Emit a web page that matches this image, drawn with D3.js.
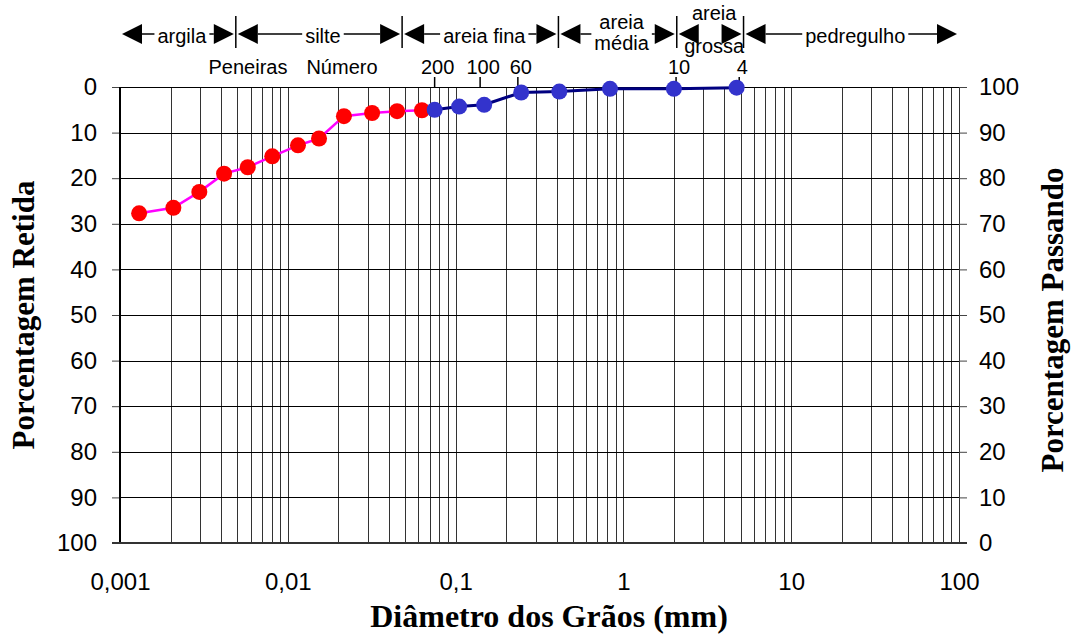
<!DOCTYPE html>
<html>
<head>
<meta charset="utf-8">
<title>Curva Granulométrica</title>
<script src="https://d3js.org/d3.v7.min.js"></script>
<style>
    body { margin: 0; background: #fff; }
    text { font-family: Arial, 'Liberation Sans', sans-serif; fill: #000; }
    .titulo { font-family: 'Times New Roman', 'Liberation Serif', serif; font-weight: bold; }
</style>
</head>
<body>
<svg id="chart" width="1072" height="636"></svg>
<script>
// sedimentacao (vermelho)
var diamSed = [0.0013, 0.00208, 0.00297, 0.00417, 0.00577, 0.00808, 0.0115, 0.01535, 0.0216, 0.0318, 0.0448, 0.063];
var retSed  = [27.7, 26.5, 23.0, 19.0, 17.6, 15.2, 12.8, 11.3, 6.4, 5.7, 5.3, 5.1];

// peneiramento (azul)
var diamPen = [0.075, 0.105, 0.148, 0.246, 0.415, 0.832, 2.0, 4.73];
var retPen  = [5.0, 4.3, 3.9, 1.2, 1.0, 0.4, 0.4, 0.15];

// peneiras no topo
var peneiras     = ["200", "100", "60", "10", "4"];
var diamPeneiras = [0.075, 0.14, 0.235, 2.06, 4.9];

// classes de solo
var classes = [["argila"], ["silte"], ["areia fina"], ["areia", "média"], ["areia", "grossa"], ["pedregulho"]];
var limites = [0.001, 0.0049, 0.048, 0.41, 2.08, 5.2, 100];

var xTicks = [0.001, 0.01, 0.1, 1, 10, 100];
var yTicks = [0, 10, 20, 30, 40, 50, 60, 70, 80, 90, 100];

var svg = d3.select("#chart");
var pL = 120, pR = 959, pT = 87, pB = 543;

var x = d3.scaleLog().domain([0.001, 100]).range([pL, pR]);
var yL = d3.scaleLinear().domain([0, 100]).range([pT, pB]);   // retida
var yR = d3.scaleLinear().domain([0, 100]).range([pB, pT]);   // passando

// grid
svg.append("g").selectAll("line")
    .data(x.ticks())
    .enter().append("line")
    .attr("x1", d => Math.round(x(d)) + 0.5).attr("x2", d => Math.round(x(d)) + 0.5)
    .attr("y1", pT).attr("y2", pB)
    .attr("stroke", "#333").attr("stroke-width", 1);

svg.append("g").selectAll("line")
    .data(yTicks)
    .enter().append("line")
    .attr("x1", pL).attr("x2", pR)
    .attr("y1", d => Math.round(yL(d)) + 0.5).attr("y2", d => Math.round(yL(d)) + 0.5)
    .attr("stroke", "#000").attr("stroke-width", 1);

// axes
var axL = svg.append("g")
    .call(d3.axisLeft(yL).tickValues(yTicks).tickSize(8).tickPadding(15))
    .attr("transform", "translate(" + pL + ",0)");
var axR = svg.append("g")
    .call(d3.axisRight(yR).tickValues(yTicks).tickSize(8).tickPadding(12))
    .attr("transform", "translate(" + pR + ",0)");
var axB = svg.append("g")
    .call(d3.axisBottom(x).tickValues(xTicks).tickSize(0).tickPadding(30)
        .tickFormat(d => String(d).replace(".", ",")))
    .attr("transform", "translate(0," + pB + ")");

[axL, axR, axB].forEach(function(a) {
    a.select(".domain").remove();
    a.attr("font-family", null).attr("font-size", null);
    a.selectAll("text").style("font-size", "24px");
    a.selectAll(".tick line").attr("stroke", "#444");
});

// frame
svg.append("line").attr("x1", pL).attr("x2", pL).attr("y1", pT).attr("y2", pB + 1)
    .attr("stroke", "#000").attr("stroke-width", 2);
svg.append("line").attr("x1", pL - 8).attr("x2", pR + 8).attr("y1", pB).attr("y2", pB)
    .attr("stroke", "#333").attr("stroke-width", 2);

// sieve ticks
svg.append("g").selectAll("line")
    .data(diamPeneiras)
    .enter().append("line")
    .attr("x1", d => x(d)).attr("x2", d => x(d))
    .attr("y1", pT - 10).attr("y2", pT)
    .attr("stroke", "#000").attr("stroke-width", 1.5);
svg.append("g").selectAll("text")
    .data(peneiras)
    .enter().append("text")
    .attr("x", (d, i) => x(diamPeneiras[i]) + 3)
    .attr("y", 74)
    .attr("text-anchor", "middle")
    .style("font-size", "20px")
    .text(d => d);

svg.append("text").attr("x", 248).attr("y", 74).attr("text-anchor", "middle")
    .style("font-size", "20px").text("Peneiras");
svg.append("text").attr("x", 342).attr("y", 74).attr("text-anchor", "middle")
    .style("font-size", "20px").text("Número");

// soil classes with arrows
var ay = 34, tri = 20;
var band = svg.append("g");
limites.slice(1, -1).forEach(function(l) {
    band.append("line").attr("x1", x(l)).attr("x2", x(l)).attr("y1", 16).attr("y2", 48)
        .attr("stroke", "#000").attr("stroke-width", 1.5);
});
classes.forEach(function(lines, i) {
    var xa = x(limites[i]) + 2, xb = x(limites[i + 1]) - 2;
    var cx = (xa + xb) / 2 + 4;
    var g = band.append("g");
    g.append("path").attr("d", "M" + xa + "," + ay + "L" + (xa + tri) + "," + (ay - 10) + "L" + (xa + tri) + "," + (ay + 10) + "Z");
    g.append("path").attr("d", "M" + xb + "," + ay + "L" + (xb - tri) + "," + (ay - 10) + "L" + (xb - tri) + "," + (ay + 10) + "Z");

    var txt = lines.map(function(s) {
        return g.append("text").attr("x", cx).attr("text-anchor", "middle")
            .style("font-size", "20px").text(s);
    });
    var w = d3.max(txt, t => t.node().getComputedTextLength());
    if (lines.length === 1) {
        txt[0].attr("y", 43);
    } else if (w + 2 * tri + 8 < xb - xa) {
        txt[0].attr("y", 29); txt[1].attr("y", 50);
    } else {
        txt[0].attr("y", 20); txt[1].attr("y", 53);
    }
    var tl = cx - w / 2 - 3, tr = cx + w / 2 + 3;
    if (tl > xa + tri) g.append("line").attr("x1", xa + tri).attr("x2", tl).attr("y1", ay).attr("y2", ay)
        .attr("stroke", "#000").attr("stroke-width", 1.5);
    if (tr < xb - tri) g.append("line").attr("x1", tr).attr("x2", xb - tri).attr("y1", ay).attr("y2", ay)
        .attr("stroke", "#000").attr("stroke-width", 1.5);
});

// series
var sed = diamSed.map((d, i) => [d, retSed[i]]);
var pen = diamPen.map((d, i) => [d, retPen[i]]);
var line = d3.line().x(d => x(d[0])).y(d => yL(d[1]));

svg.append("path").datum(sed).attr("d", line)
    .attr("fill", "none").attr("stroke", "#FF00FF").attr("stroke-width", 2.5);
svg.append("g").selectAll("circle").data(sed).enter().append("circle")
    .attr("cx", d => x(d[0])).attr("cy", d => yL(d[1])).attr("r", 8)
    .attr("fill", "#FF0000");

svg.append("path").datum(pen).attr("d", line)
    .attr("fill", "none").attr("stroke", "#000080").attr("stroke-width", 3);
svg.append("g").selectAll("circle").data(pen).enter().append("circle")
    .attr("cx", d => x(d[0])).attr("cy", d => yL(d[1])).attr("r", 8)
    .attr("fill", "#3333CC");

// titles
svg.append("text").attr("class", "titulo")
    .attr("transform", "translate(34,315) rotate(-90)")
    .attr("text-anchor", "middle").style("font-size", "31px")
    .text("Porcentagem Retida");
svg.append("text").attr("class", "titulo")
    .attr("transform", "translate(1063,320) rotate(-90)")
    .attr("text-anchor", "middle").style("font-size", "31px")
    .text("Porcentagem Passando");
svg.append("text").attr("class", "titulo")
    .attr("x", 549).attr("y", 627)
    .attr("text-anchor", "middle").style("font-size", "32px")
    .text("Diâmetro dos Grãos (mm)");
</script>
</body>
</html>
